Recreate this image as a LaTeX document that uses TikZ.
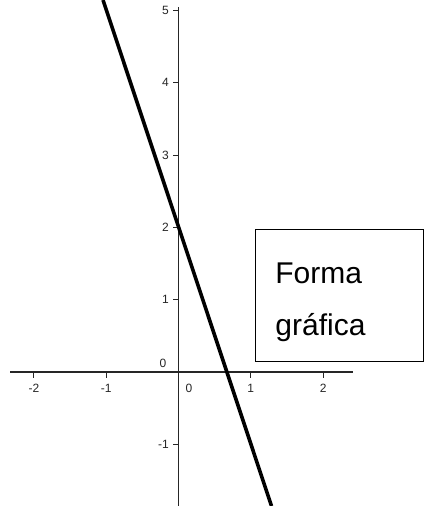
\documentclass[tikz,border=0pt]{standalone}
\usepackage{fontspec}
\setmainfont{Liberation Sans}
\begin{document}
\begin{tikzpicture}[x=1pt,y=-1pt,
  axis/.style={line width=1.3pt,draw=black!85},
  tck/.style={line width=1pt,draw=black!85},
  lbl/.style={font=\fontsize{12}{14}\selectfont,inner sep=0pt,text=black!85},
  graph/.style={line width=3.6pt,line cap=butt},
  textbox/.style={draw,line width=0.8pt,anchor=north west,minimum width=168pt,minimum height=132pt,
    text width=128pt,inner xsep=20pt,align=left,font=\fontsize{30}{52}\selectfont}]
\useasboundingbox (0,0) rectangle (424,506);
\fill[white] (0,0) rectangle (424,506);
% axes
\coordinate (xl) at (10,372);
\coordinate (xr) at (353,372);
\coordinate (yt) at (178.5,7);
\coordinate (yb) at (178.5,506);
\draw[axis] (xl) -- (xr);
\draw[axis] (yt) -- (yb);
% x ticks
\foreach \v/\t in {-2/m2,-1/m1,1/p1,2/p2}{
  \coordinate (xt\t) at ({178.5+72.3*\v},372);
  \draw[tck] (xt\t) -- ++(0,6);
  \node[lbl] (xl\t) at ({178.5+72.3*\v},388) {\v};
}
% y ticks
\foreach \v/\t in {5/p5,4/p4,3/p3,2/p2,1/p1,-1/m1}{
  \coordinate (yt\t) at (178.5,{372-72.3*\v});
  \draw[tck] (yt\t) -- ++(-6,0);
  \node[lbl,anchor=east] (yl\t) at (169,{372-72.3*\v}) {\v};
}
\node[lbl] (zeroa) at (163,363) {0};
\node[lbl] (zerob) at (189,388) {0};
% graph line y = -3x + 2
\coordinate (ltop) at (103,0);
\coordinate (lbot) at (271.5,506);
\draw[graph] (ltop) -- (lbot);
% box
\node[textbox] (box) at (255,229) {\rule{0pt}{34pt}Forma\\gráfica};
\end{tikzpicture}
\end{document}
